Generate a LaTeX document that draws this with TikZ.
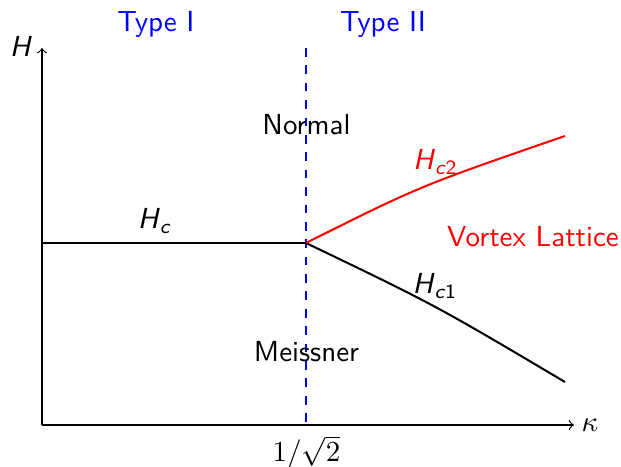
\documentclass[tikz,border=0pt]{standalone}
\tikzset{
  lbl/.style={font=\sffamily, anchor=base, inner sep=0pt},
  axis/.style={line width=0.4pt, ->},
  phase/.style={line width=0.7pt},
  divider/.style={dashed, blue, line width=0.4pt}
}
\begin{document}
\begin{tikzpicture}[x=0.345pt,y=-0.345pt]
\useasboundingbox (0,0) rectangle (621,467);
\coordinate (O) at (42,425);
\coordinate (Xend) at (574,425);
\coordinate (Ytop) at (42,48);
\coordinate (Dtop) at (306,48);
\coordinate (Dbot) at (306,425);
\coordinate (L) at (42,243);
\coordinate (P) at (306,243);
\coordinate (A) at (565,136);
\coordinate (B) at (565,382);
\draw[axis] (O) -- (Xend);
\draw[axis] (O) -- (Ytop);
\draw[divider] (Dtop) -- (Dbot);
\draw[phase] (L) -- (P);
\draw[phase] (P) .. controls (435,305) .. (B);
\draw[phase,red] (P) .. controls (420,186) .. (A);
\node[lbl,text=blue] (typeI) at (156,31.5) {Type I};
\node[lbl,text=blue] (typeII) at (383,31.5) {Type II};
\node[lbl] (normal) at (306.5,135) {Normal};
\node[lbl] (meissner) at (306.5,362) {Meissner};
\node[lbl] (hc) at (155,229) {\textsl{H}\textsubscript{\textsl{c}}};
\node[lbl,text=red] (hc2) at (435.5,170) {\textsl{H}\textsubscript{\textsl{c}2}};
\node[lbl,text=red] (vl) at (533,246.5) {Vortex Lattice};
\node[lbl] (hc1) at (435,294) {\textsl{H}\textsubscript{\textsl{c}1}};
\node[lbl] (Hlab) at (21,57) {\textsl{H}};
\node[anchor=base,inner sep=0pt] (kappa) at (590,432) {$\kappa$};
\node[anchor=base,inner sep=0pt] (sqrt) at (306.5,462) {$1/\sqrt{2}$};
\end{tikzpicture}
\end{document}
